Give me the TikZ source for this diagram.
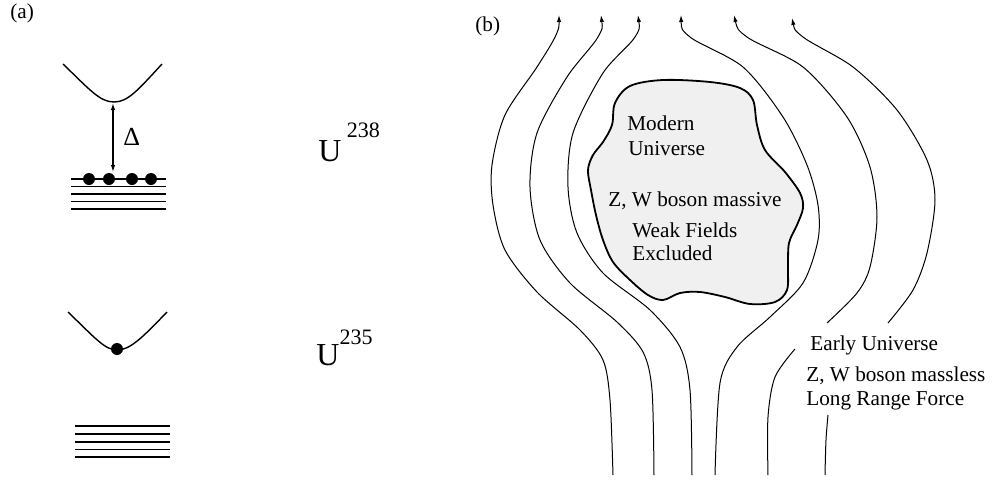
\documentclass[tikz,border=0pt]{standalone}
\usepackage{fontspec}
\setmainfont{Liberation Serif}
\usepackage{tikz}
\usetikzlibrary{arrows.meta}

\begin{document}
\begin{tikzpicture}[
    x=0.5pt, y=-0.5pt,
    every node/.style={font=\fontsize{10.6}{12.7}\selectfont, inner sep=0pt},
    lbl/.style={anchor=base west},
    fieldline/.style={line width=0.5pt, {Latex[length=3.5pt,width=2.2pt]}-},
    level/.style={line width=0.9pt},
    well/.style={line width=0.7pt},
    blob/.style={line width=0.9pt, fill=black!6},
    dot/.style={fill=black},
    gaparr/.style={line width=0.6pt, {Latex[length=3.5pt,width=2.2pt]}-{Latex[length=3.5pt,width=2.2pt]}}
]
\useasboundingbox (0,0) rectangle (993,483);

% (a) level schemes
\node[lbl] (tagA) at (10,18) {(a)};

\draw[well] (63,64) .. controls (90,90) and (100,102) .. (114,102)
            .. controls (128,102) and (138,90) .. (162,64);
\foreach \y in {179,186.5,194,201.5,209}
    \draw[level] (71,\y) -- (166,\y);
\foreach \x in {89,109,132,151}
    \fill[dot] (\x,179) circle[radius=3pt];
\coordinate (gapTop) at (113,103);
\coordinate (gapBot) at (113,172);
\draw[gaparr] (gapTop) -- (gapBot);
\node[lbl] (delta) at (123,145) {\fontsize{13}{15}\selectfont Δ};
\node[lbl] (u238) at (318,161) {\fontsize{16}{18}\selectfont U\,\raisebox{12pt}{\fontsize{11}{13}\selectfont 238}};

\draw[well] (68,312) .. controls (95,338) and (105,350) .. (117,350)
            .. controls (130,350) and (142,338) .. (167,312);
\fill[dot] (117,349) circle[radius=3pt];
\foreach \y in {426,434,442,449.5,457}
    \draw[level] (75,\y) -- (170,\y);
\node[lbl] (u235) at (316,365) {\fontsize{16}{18}\selectfont U\raisebox{10.5pt}{\fontsize{11}{13}\selectfont 235}};

% (b) field lines round the bubble
\node[lbl] (tagB) at (475,31) {(b)};

\draw[blob] plot[smooth cycle, tension=0.55] coordinates {
    (630,86) (663,80) (710,82) (740,88) (753,100) (757,125) (765,150)
    (785,172) (800,193) (803,208) (797,225) (789,243) (788,267) (787,290)
    (775,302) (750,304) (725,297) (700,292) (680,293) (663,300) (648,295)
    (630,280) (613,262) (603,240) (596,215) (591,190) (588,170) (593,155)
    (603,142) (612,125) (615,103)};

\draw[fieldline] plot[smooth] coordinates {(559,15) (556,35) (537,67) (505,115)
    (492,165) (493,205) (505,250) (537,292) (580,330) (603,360) (610,400) (613,475)};
\draw[fieldline] plot[smooth] coordinates {(601,15) (598,37) (567,77) (537,133)
    (530,187) (540,240) (570,283) (617,322) (643,352) (652,390) (654,475)};
\draw[fieldline] plot[smooth] coordinates {(638,15) (635,37) (603,73) (573,133)
    (568,187) (577,233) (603,273) (650,310) (680,347) (690,390) (692,475)};
\draw[fieldline] plot[smooth] coordinates {(681,15) (690,37) (743,67) (783,117)
    (807,165) (818,205) (818,240) (803,283) (770,317) (737,347) (720,383) (715,475)};
\draw[fieldline] plot[smooth] coordinates {(734,15) (747,37) (803,67) (847,117)
    (870,167) (877,217) (870,267) (857,293) (827,323)};
\draw[line width=0.5pt] plot[smooth] coordinates {(795,349) (775,377) (768,417) (768,475)};
\draw[fieldline] plot[smooth] coordinates {(792,18) (803,37) (853,67) (897,110)
    (927,160) (935,200) (927,253) (913,290) (888,323)};
\draw[line width=0.5pt] plot[smooth] coordinates {(828,415) (826,440) (825,475)};

\node[lbl] (modern) at (627,130) {Modern};
\node[lbl] (univ) at (628,155) {Universe};
\node[lbl] (massive) at (608,206) {Z, W boson massive};
\node[lbl] (weak) at (632,237) {Weak Fields};
\node[lbl] (excl) at (632,260) {Excluded};

\node[lbl] (early) at (810,350) {Early Universe};
\node[lbl] (massless) at (806,381) {Z, W boson massless};
\node[lbl] (longrange) at (806,405) {Long Range Force};
\end{tikzpicture}
\end{document}
